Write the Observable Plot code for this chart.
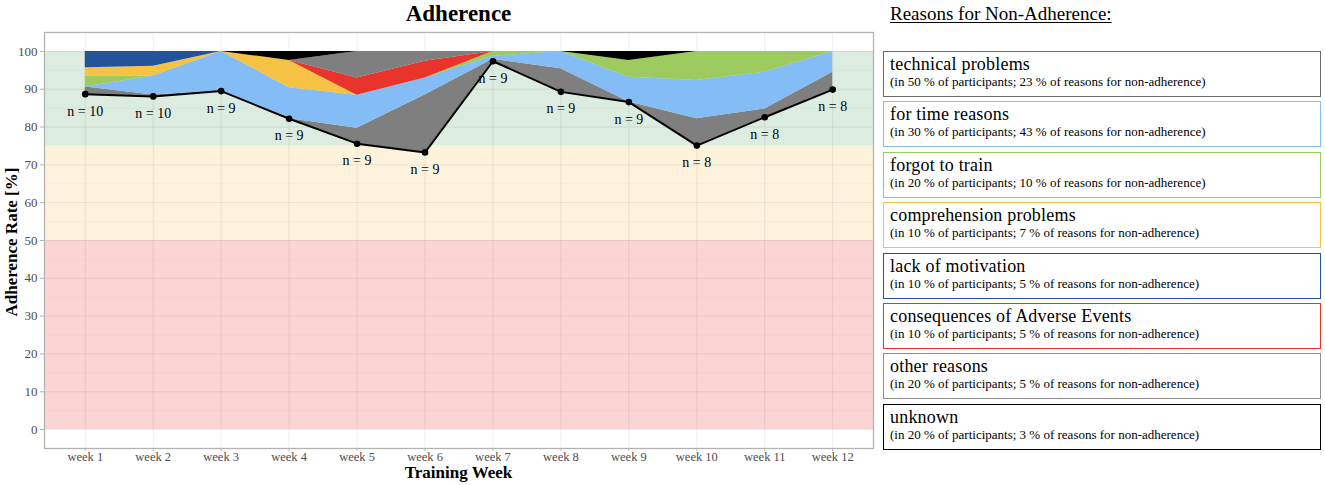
<!DOCTYPE html>
<html><head><meta charset="utf-8">
<script src="https://cdn.jsdelivr.net/npm/d3@7"></script>
<script src="https://cdn.jsdelivr.net/npm/@observablehq/plot@0.6"></script>
<style>
body{margin:0;background:#fff;font-family:"Liberation Serif","DejaVu Serif",serif;color:#000;}
#wrap{position:relative;width:1325px;height:485px;overflow:hidden;}
#chart{position:absolute;left:0;top:0;}
#title{position:absolute;left:44px;width:829px;top:1px;text-align:center;font-weight:bold;font-size:23px;}
#xtitle{position:absolute;left:44px;width:829px;top:464px;text-align:center;font-weight:bold;font-size:17px;line-height:18px;}
#ytitle{position:absolute;left:12px;top:242px;transform:translate(-50%,-50%) rotate(-90deg);white-space:nowrap;font-weight:bold;font-size:17px;}
#ltitle{position:absolute;left:890px;top:3px;font-size:19px;text-decoration:underline;text-underline-offset:2px;}
.box{position:absolute;left:883px;width:438px;height:46px;box-sizing:border-box;border:1.6px solid #000;padding:2px 0 0 6px;}
.box .t{font-size:18px;line-height:20px;letter-spacing:0.2px;}
.box .s{font-size:13px;line-height:15px;}
</style></head>
<body><div id="wrap">
<div id="chart"></div>
<div id="title">Adherence</div>
<div id="xtitle">Training Week</div>
<div id="ytitle">Adherence Rate [%]</div>
<div id="ltitle">Reasons for Non-Adherence:</div>
<div id="legend"></div>
</div>
<script>
// ---- data ----
const weeks = [1,2,3,4,5,6,7,8,9,10,11,12];
const weekLabels = ["week 1","week 2","week 3","week 4","week 5","week 6","week 7","week 8","week 9","week 10","week 11","week 12"];
const adherence = [88.7, 88.1, 89.5, 82.2, 75.6, 73.3, 97.4, 89.3, 86.6, 75.1, 82.6, 89.9];
const nParticipants = [10,10,9,9,9,9,9,9,9,8,8,8];
// percentage points of non-adherence per reason and week (stacked from adherence line up to 100)
const technical     = [1.9, 0.4, 0,   0,   4.1, 15.2, 0.5, 6.1, 0,   7.1, 2.2, 4.6];
const timeReasons   = [0,   5.0, 10.5,8.2, 8.7, 4.5,  0.8, 4.6, 6.6, 10.1,9.7, 5.5];
const forgot        = [2.8, 0,   0,   0,   0,   0,    1.3, 0,   4.4, 7.7, 5.5, 0];
const comprehension = [2.3, 2.6, 0,   7.2, 0,   0,    0,   0,   0,   0,   0,   0];
const motivation    = [4.3, 3.9, 0,   0,   0,   0,    0,   0,   0,   0,   0,   0];
const adverse       = [0,   0,   0,   0,   4.6, 4.4,  0,   0,   0,   0,   0,   0];
const other         = [0,   0,   0,   0,   7.0, 2.6,  0,   0,   0,   0,   0,   0];
const unknown       = [0,   0,   0,   2.4, 0,   0,    0,   0,   2.4, 0,   0,   0];

const reasonNames = ["technical problems","for time reasons","forgot to train","comprehension problems","lack of motivation","consequences of Adverse Events","other reasons","unknown"];
const reasonParticipants = [50,30,20,10,10,10,20,20];
const reasonShares = [23,43,10,7,5,5,5,3];
const reasonFill = ["#7f7f7f","#84bdf5","#9dcb5f","#f6c244","#22539b","#e8342a","#7f7f7f","#000000"];
const reasonBorder = ["#6a6a6a","#84bdf5","#9dcb5f","#f6c244","#22539b","#e8342a","#8f8f8f","#000000"];
const reasonValues = [technical,timeReasons,forgot,comprehension,motivation,adverse,other,unknown];

const zoneLower = [75, 50, 0];
const zoneUpper = [100, 75, 50];
const zoneFill = ["#dcece0","#fdf3dc","#fad5d3"];
const yTicks = [0,10,20,30,40,50,60,70,80,90,100];
const yMinor = [5,15,25,35,45,55,65,75,85,95];

// ---- build tables ----
const stacked = [];
weeks.forEach((w, i) => {
  let base = adherence[i];
  reasonValues.forEach((vals, r) => {
    stacked.push({week: w, reason: reasonNames[r], y1: base, y2: base + vals[i], fill: reasonFill[r]});
    base += vals[i];
  });
});
const pts = weeks.map((w, i) => ({week: w, v: adherence[i], n: "n = " + nParticipants[i]}));
const zones = zoneLower.map((l, i) => ({y1: l, y2: zoneUpper[i], fill: zoneFill[i]}));
const xDom = [0.4, 12.6];

const plot = Plot.plot({
  width: 878, height: 485,
  marginLeft: 44, marginRight: 5, marginTop: 32, marginBottom: 37,
  style: {fontFamily: "'Liberation Serif', serif", fontSize: "13px", background: "#fff"},
  x: {domain: xDom, axis: null},
  y: {domain: [-5, 105], axis: null},
  color: {type: "identity"},
  marks: [
    Plot.rect(zones, {x1: () => xDom[0], x2: () => xDom[1], y1: "y1", y2: "y2", fill: "fill"}),
    Plot.ruleY(yMinor, {stroke: "#000", strokeOpacity: 0.05, strokeWidth: 0.6}),
    Plot.ruleY(yTicks, {stroke: "#000", strokeOpacity: 0.07, strokeWidth: 1}),
    Plot.ruleX(weeks, {stroke: "#000", strokeOpacity: 0.07, strokeWidth: 1}),
    Plot.areaY(stacked, {x: "week", y1: "y1", y2: "y2", z: "reason", fill: "fill", curve: "linear"}),
    Plot.line(pts, {x: "week", y: "v", stroke: "#000", strokeWidth: 2}),
    Plot.dot(pts, {x: "week", y: "v", r: 3.3, fill: "#000"}),
    Plot.text(pts, {x: "week", y: "v", text: "n", dy: 17, fontSize: 14, fill: "#000"}),
    Plot.frame({stroke: "#b3b3b3", strokeWidth: 1.3}),
    Plot.axisY(yTicks, {tickSize: 4, tickPadding: 3, fontSize: 13, fill: "#4d4d4d", stroke: "#b3b3b3", label: null}),
    Plot.axisX(weeks, {tickSize: 3, tickPadding: 1, fontSize: 12.5, fill: "#4d4d4d", stroke: "#b3b3b3", tickFormat: (d) => weekLabels[d - 1], label: null})
  ]
});
document.getElementById("chart").appendChild(plot);

// ---- legend ----
const legend = document.getElementById("legend");
reasonNames.forEach((name, i) => {
  const b = document.createElement("div");
  b.className = "box";
  b.style.top = (51 + i * 50.4) + "px";
  b.style.borderColor = reasonBorder[i];
  b.innerHTML = `<div class="t">${name}</div><div class="s">(in ${reasonParticipants[i]} % of participants; ${reasonShares[i]} % of reasons for non-adherence)</div>`;
  legend.appendChild(b);
});
</script>
</body></html>
